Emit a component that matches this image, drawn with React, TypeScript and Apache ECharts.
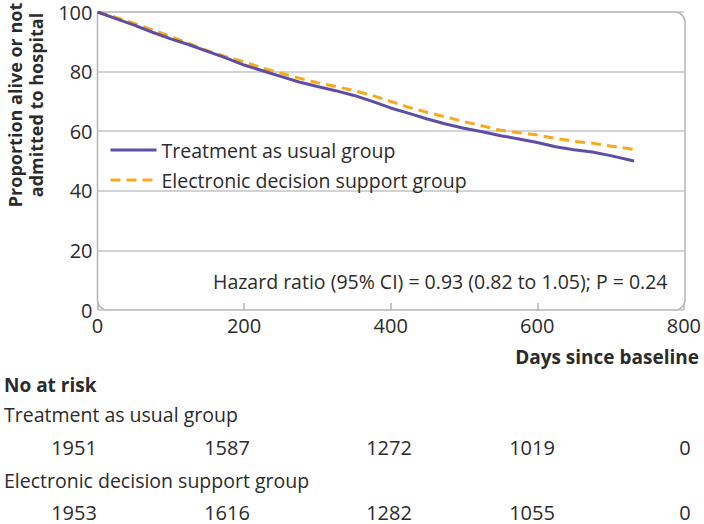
import React, { useEffect, useRef } from "react";
import * as echarts from "echarts";

const days = [0, 25, 50, 75, 100, 125, 150, 175, 200, 225, 250, 275, 300, 325, 350, 375, 400, 425, 450, 475, 500, 525, 550, 575, 600, 625, 650, 675, 700, 732];
const treatmentAsUsual = [100, 97.8, 95.6, 93.2, 91.0, 89.0, 86.8, 84.6, 82.2, 80.3, 78.4, 76.5, 75.0, 73.6, 72.0, 70.0, 67.8, 66.0, 64.1, 62.4, 61.0, 59.8, 58.5, 57.4, 56.2, 54.8, 53.8, 53.0, 51.8, 50.0];
const electronicSupport = [100, 98.2, 96.2, 94.0, 91.8, 89.4, 87.0, 85.0, 83.3, 81.2, 79.5, 77.8, 76.3, 75.0, 73.6, 72.0, 70.0, 68.0, 66.3, 64.8, 63.2, 61.8, 60.3, 59.5, 58.7, 57.6, 56.6, 56.0, 55.0, 53.9];
const seriesNames = ["Treatment as usual group", "Electronic decision support group"];
const atRiskTreatment = [1951, 1587, 1272, 1019, 0];
const atRiskElectronic = [1953, 1616, 1282, 1055, 0];
const atRiskX = [74, 227, 389, 532, 685];
const hazardText = "Hazard ratio (95% CI) = 0.93 (0.82 to 1.05); P = 0.24";

const FONT = "'Open Sans', sans-serif";
const TXT = "#2b2b2b";

export default function App() {
  const ref = useRef<HTMLDivElement>(null);
  useEffect(() => {
    document.body.style.margin = "0";
    const chart = echarts.init(ref.current!, null, { renderer: "svg" });
    const gl = 97.5, gr = 685, gt = 12, gb = 310;
    const tableTexts: any[] = [];
    atRiskTreatment.forEach((v, i) =>
      tableTexts.push({ type: "text", x: atRiskX[i], y: 447, style: { text: String(v), fill: TXT, font: `20px ${FONT}`, textAlign: "center", textVerticalAlign: "middle" } })
    );
    atRiskElectronic.forEach((v, i) =>
      tableTexts.push({ type: "text", x: atRiskX[i], y: 512, style: { text: String(v), fill: TXT, font: `20px ${FONT}`, textAlign: "center", textVerticalAlign: "middle" } })
    );
    chart.setOption({
      animation: false,
      grid: { left: gl, right: 704 - gr, top: gt, bottom: 524 - gb, show: false },
      xAxis: {
        type: "value", min: 0, max: 800, interval: 200,
        axisLine: { show: false },
        axisTick: { show: true, inside: true, length: 7, lineStyle: { color: "#b5b5b5", width: 1.5 } },
        splitLine: { show: false },
        axisLabel: { color: TXT, fontSize: 20, fontFamily: FONT, margin: 5 },
      },
      yAxis: {
        type: "value", min: 0, max: 100, interval: 20,
        axisLine: { show: false }, axisTick: { show: false },
        splitLine: { show: true, lineStyle: { color: "#c4c4c4", width: 1.5 } },
        axisLabel: { color: TXT, fontSize: 20, fontFamily: FONT, margin: 5 },
      },
      legend: {
        left: 104, top: 135, orient: "vertical", itemWidth: 46, itemHeight: 14, itemGap: 10,
        itemStyle: { opacity: 0 },
        lineStyle: { width: 3 },
        textStyle: { color: TXT, fontSize: 19.5, fontFamily: FONT },
        data: seriesNames,
      },
      graphic: [
        { type: "rect", z: 0, silent: true, shape: { x: gl, y: gt, width: gr - gl, height: gb - gt, r: [0, 10, 10, 10] }, style: { fill: "none", stroke: "#b5b5b5", lineWidth: 1.5 } },
        { type: "text", x: 25, y: 105, rotation: Math.PI / 2, style: { text: "Proportion alive or not\nadmitted to hospital", fill: TXT, font: `bold 18px ${FONT}`, textAlign: "center", textVerticalAlign: "middle", lineHeight: 21 } },
        { type: "text", x: 213, y: 281, style: { text: hazardText, fill: TXT, font: `19.5px ${FONT}`, textAlign: "left", textVerticalAlign: "middle" } },
        { type: "text", x: 699, y: 357, style: { text: "Days since baseline", fill: TXT, font: `bold 19px ${FONT}`, textAlign: "right", textVerticalAlign: "middle" } },
        { type: "text", x: 4, y: 385, style: { text: "No at risk", fill: TXT, font: `bold 19px ${FONT}`, textAlign: "left", textVerticalAlign: "middle" } },
        { type: "text", x: 4, y: 414, style: { text: seriesNames[0], fill: TXT, font: `19.5px ${FONT}`, textAlign: "left", textVerticalAlign: "middle" } },
        { type: "text", x: 4, y: 480, style: { text: seriesNames[1], fill: TXT, font: `19.5px ${FONT}`, textAlign: "left", textVerticalAlign: "middle" } },
        ...tableTexts,
      ],
      series: [
        {
          name: seriesNames[1], type: "line", symbol: "none", z: 2,
          data: days.map((d, i) => [d, electronicSupport[i]]),
          lineStyle: { color: "#f8a91c", width: 3, type: [10, 6] },
          itemStyle: { color: "#f8a91c" },
        },
        {
          name: seriesNames[0], type: "line", symbol: "none", z: 3,
          data: days.map((d, i) => [d, treatmentAsUsual[i]]),
          lineStyle: { color: "#5f4ea6", width: 3 },
          itemStyle: { color: "#5f4ea6" },
        },
      ],
    });
    return () => chart.dispose();
  }, []);
  return <div ref={ref} style={{ width: 704, height: 524 }} />;
}
